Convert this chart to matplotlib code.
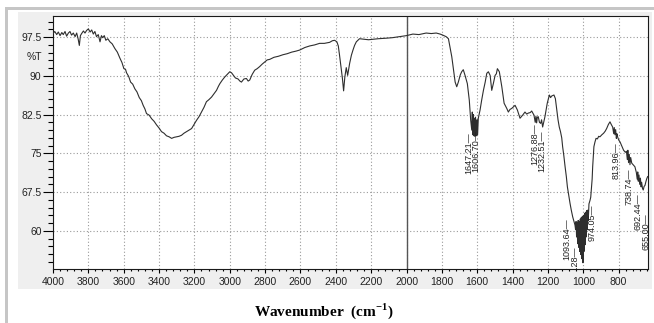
import matplotlib
matplotlib.use('Agg')
import matplotlib.pyplot as plt
from matplotlib.patches import Rectangle
from matplotlib.ticker import MultipleLocator, FormatStrFormatter
import matplotlib.transforms as mtransforms

# FTIR spectrum, high -> low wavenumber
wavenumber = [
    4000, 3990, 3979, 3970, 3960, 3950, 3942, 3932, 3923, 3913,
    3904, 3895, 3885, 3875, 3866, 3858, 3851, 3845, 3838, 3828,
    3819, 3810, 3800, 3790, 3781, 3772, 3763, 3754, 3744, 3734,
    3726, 3719, 3710, 3701, 3690, 3678, 3665, 3650, 3636, 3621,
    3610, 3599, 3590, 3584, 3572, 3561, 3549, 3537, 3525, 3512,
    3500, 3490, 3480, 3471, 3456, 3442, 3428, 3414, 3400, 3386,
    3372, 3358, 3343, 3329, 3315, 3301, 3287, 3273, 3259, 3245,
    3230, 3216, 3202, 3188, 3174, 3160, 3146, 3132, 3118, 3103,
    3090, 3075, 3064, 3056, 3042, 3028, 3014, 3000, 2990, 2981,
    2968, 2953, 2943, 2934, 2920, 2906, 2896, 2887, 2873, 2859,
    2845, 2831, 2816, 2802, 2788, 2774, 2750, 2725, 2699, 2675,
    2650, 2625, 2605, 2575, 2548, 2520, 2492, 2465, 2435, 2420,
    2407, 2394, 2386, 2379, 2370, 2363, 2356, 2349, 2341, 2333,
    2322, 2312, 2303, 2294, 2284, 2266, 2240, 2215, 2190, 2160,
    2115, 2080, 2040, 2000, 1964, 1930, 1889, 1860, 1832, 1810,
    1795, 1776, 1763, 1744, 1725, 1716, 1707, 1696, 1688, 1679,
    1669, 1656, 1645, 1637, 1631, 1628, 1625, 1622, 1619, 1616,
    1613, 1610, 1607, 1604, 1601, 1598, 1594, 1584, 1575, 1565,
    1555, 1546, 1537, 1527, 1518, 1509, 1499, 1492, 1486, 1475,
    1461, 1448, 1433, 1424, 1415, 1405, 1386, 1373, 1358, 1343,
    1330, 1320, 1311, 1300, 1292, 1279, 1272, 1268, 1264, 1260,
    1255, 1248, 1241, 1236, 1230, 1217, 1204, 1192, 1185, 1179,
    1166, 1158, 1150, 1143, 1136, 1129, 1122, 1117, 1110, 1103,
    1096, 1090, 1082, 1075, 1068, 1060, 1053, 1047, 1044, 1041,
    1038, 1035, 1032, 1029, 1026, 1023, 1020, 1017, 1014, 1011,
    1008, 1005, 1002, 999, 996, 993, 990, 987, 984, 981,
    978, 975, 972, 968, 962, 958, 950, 947, 943, 940,
    934, 928, 920, 913, 906, 895, 885, 876, 868, 858,
    849, 842, 834, 828, 825, 821, 817, 813, 810, 806,
    800, 792, 782, 772, 762, 756, 751, 748, 744, 740,
    736, 732, 726, 718, 708, 700, 695, 692, 689, 685,
    681, 677, 673, 670, 665, 661, 656, 651, 646, 641,
    636,
]
transmittance = [
    98.2, 98.6, 98.0, 98.5, 97.8, 98.4, 98.0, 98.6, 97.7, 98.3,
    98.6, 97.9, 98.3, 97.6, 98.3, 97.2, 95.9, 97.8, 98.2, 98.7,
    98.3, 98.8, 99.1, 98.5, 98.9, 98.1, 98.6, 97.6, 98.0, 96.6,
    97.8, 97.4, 97.8, 96.9, 97.2, 96.6, 96.2, 95.3, 94.6, 93.4,
    92.6, 91.4, 91.3, 90.6, 89.9, 88.8, 88.4, 87.5, 86.9, 85.8,
    85.2, 84.3, 83.6, 82.7, 82.4, 81.7, 81.2, 80.5, 79.9, 79.2,
    78.9, 78.4, 78.2, 77.9, 78.1, 78.2, 78.3, 78.5, 78.9, 79.2,
    79.5, 79.8, 80.6, 81.4, 82.1, 83.0, 83.9, 85.0, 85.4, 85.9,
    86.5, 87.2, 88.0, 88.5, 89.2, 89.8, 90.3, 90.8, 90.6, 90.2,
    89.6, 89.4, 89.0, 88.8, 89.4, 89.5, 89.0, 89.2, 90.3, 91.1,
    91.4, 91.8, 92.3, 92.7, 93.1, 93.2, 93.6, 93.8, 94.1, 94.3,
    94.6, 94.8, 95.0, 95.5, 95.8, 96.0, 96.3, 96.3, 96.5, 96.8,
    96.9, 96.6, 95.8, 94.0, 91.5, 89.6, 87.1, 89.8, 91.6, 90.1,
    92.4, 94.0, 95.0, 95.9, 96.6, 97.2, 97.1, 97.0, 97.1, 97.2,
    97.3, 97.4, 97.6, 97.8, 98.1, 98.0, 98.3, 98.2, 98.3, 98.1,
    97.9, 97.6, 97.2, 93.7, 88.8, 87.9, 88.8, 90.2, 90.8, 91.2,
    90.1, 88.5, 85.3, 81.4, 79.5, 83.0, 78.6, 82.5, 78.4, 81.8,
    78.3, 82.0, 80.5, 78.4, 81.5, 78.6, 81.8, 83.4, 85.3, 87.2,
    88.8, 90.5, 90.8, 90.1, 87.2, 88.5, 90.1, 90.4, 91.4, 90.8,
    87.9, 84.7, 83.7, 83.0, 83.5, 83.7, 84.3, 83.4, 81.8, 82.4,
    83.0, 82.6, 82.8, 82.9, 83.2, 82.4, 81.0, 82.2, 80.9, 82.0,
    82.1, 81.0, 80.8, 81.5, 80.1, 82.1, 84.7, 86.3, 85.8, 86.1,
    86.3, 85.6, 83.5, 81.5, 80.1, 79.2, 78.0, 76.3, 74.5, 72.4,
    70.5, 68.5, 66.8, 65.3, 64.0, 62.7, 61.8, 61.1, 60.3, 61.8,
    58.8, 61.6, 57.5, 62.0, 56.8, 61.8, 56.0, 62.3, 55.4, 62.6,
    54.6, 62.8, 53.8, 63.0, 56.0, 63.4, 57.3, 63.6, 58.8, 63.9,
    60.2, 64.0, 62.0, 65.2, 65.9, 66.5, 70.0, 72.4, 74.5, 76.3,
    77.2, 77.9, 77.8, 78.3, 78.2, 78.6, 78.9, 79.3, 79.8, 80.6,
    81.1, 80.6, 80.1, 78.8, 80.0, 78.6, 79.6, 77.9, 78.8, 78.2,
    77.6, 77.2, 76.4, 75.6, 75.2, 75.4, 73.8, 75.6, 73.2, 74.8,
    72.8, 74.2, 73.1, 72.8, 72.4, 71.3, 70.0, 71.4, 69.6, 70.8,
    69.0, 70.2, 68.5, 69.4, 68.2, 67.9, 68.6, 68.8, 69.5, 70.1,
    70.5,
]
assert len(wavenumber) == len(transmittance)

# peak picks: label, where it is drawn, %T where the label starts
peak_labels = ['1647.21', '1606.70', '1276.88', '1232.51', '1093.64',
               '1049.28', '974.05', '813.96', '738.74', '692.44', '655.00']
peak_pos = [1647.21, 1606.70, 1276.88, 1232.51, 1093.64,
            1049.28, 952.0, 813.96, 738.74, 692.44, 644.0]
peak_level = [79.1, 79.5, 80.9, 79.5, 62.5, 57.0, 65.0, 77.2, 72.1, 67.3, 63.4]

x_major = list(range(4000, 799, -200))
y_major = [60, 67.5, 75, 82.5, 90, 97.5]

W, H = 654, 323
fig = plt.figure(figsize=(W / 100, H / 100), dpi=100)
fig.patch.set_facecolor('white')

# grey panel and frame lines of the original screenshot
fig.patches.append(Rectangle((18 / W, 1 - 289 / H), 634 / W, 277 / H,
                             transform=fig.transFigure, facecolor='#efefef',
                             edgecolor='none', zorder=-2))
fig.patches.append(Rectangle((5 / W, 1 - 10 / H), 649 / W, 3 / H,
                             transform=fig.transFigure, facecolor='#c6c6c6',
                             edgecolor='none', zorder=-2))
fig.patches.append(Rectangle((5 / W, 0), 3 / W, 1 - 7 / H,
                             transform=fig.transFigure, facecolor='#c6c6c6',
                             edgecolor='none', zorder=-2))

ax = fig.add_axes([53 / W, 1 - 269 / H, 595 / W, 253 / H])
ax.set_facecolor('white')

ax.plot(wavenumber, transmittance, color='#2e2e2e', lw=0.8, zorder=3)
ax.axvline(2000, color='#555555', lw=1.0, zorder=2)

ax.set_xlim(4000, 634)
ax.set_ylim(52.6, 101.6)
ax.set_xticks(x_major)
ax.set_yticks(y_major)
ax.xaxis.set_minor_locator(MultipleLocator(40))
ax.yaxis.set_minor_locator(MultipleLocator(1.5))
ax.yaxis.set_major_formatter(FormatStrFormatter('%g'))
ax.grid(True, which='major', color='#9a9a9a', lw=0.8, linestyle=(0, (1, 2)))

lab_font = dict(family='Liberation Sans', size=7.5, color='#222222')
ax.tick_params(axis='y', which='major', direction='out', length=7.2, width=0.8, pad=1)
ax.tick_params(axis='y', which='minor', direction='out', length=3.6, width=0.8)
ax.tick_params(axis='x', which='major', direction='out', length=3, width=0.8, pad=3)
ax.tick_params(axis='x', which='minor', direction='out', length=1.5, width=0.8)
for t in ax.get_xticklabels() + ax.get_yticklabels():
    t.set_fontfamily('Liberation Sans')
    t.set_fontsize(7.5)
    t.set_color('#222222')
for s in ax.spines.values():
    s.set_color('#1a1a1a')
    s.set_linewidth(0.8)

trans = mtransforms.blended_transform_factory(ax.transAxes, ax.transData)
ax.text(-0.019, 93.6, '%T', transform=trans, ha='right', va='center', **lab_font)

for lab, pos, lev in zip(peak_labels, peak_pos, peak_level):
    ax.text(pos, lev, lab + '\u2014', rotation=90, ha='center', va='top',
            family='Liberation Sans', fontsize=6.5, color='#222222',
            clip_on=True, zorder=4)

plt.rcParams['mathtext.fontset'] = 'custom'
plt.rcParams['mathtext.rm'] = 'Liberation Serif:bold'
fig.text(324 / W, 1 - 311 / H, r'Wavenumber  (cm$^{\mathrm{-1}}$)', ha='center', va='center',
         family='Liberation Serif', fontweight='bold', fontsize=11)

fig.savefig('out.png', dpi=100)
